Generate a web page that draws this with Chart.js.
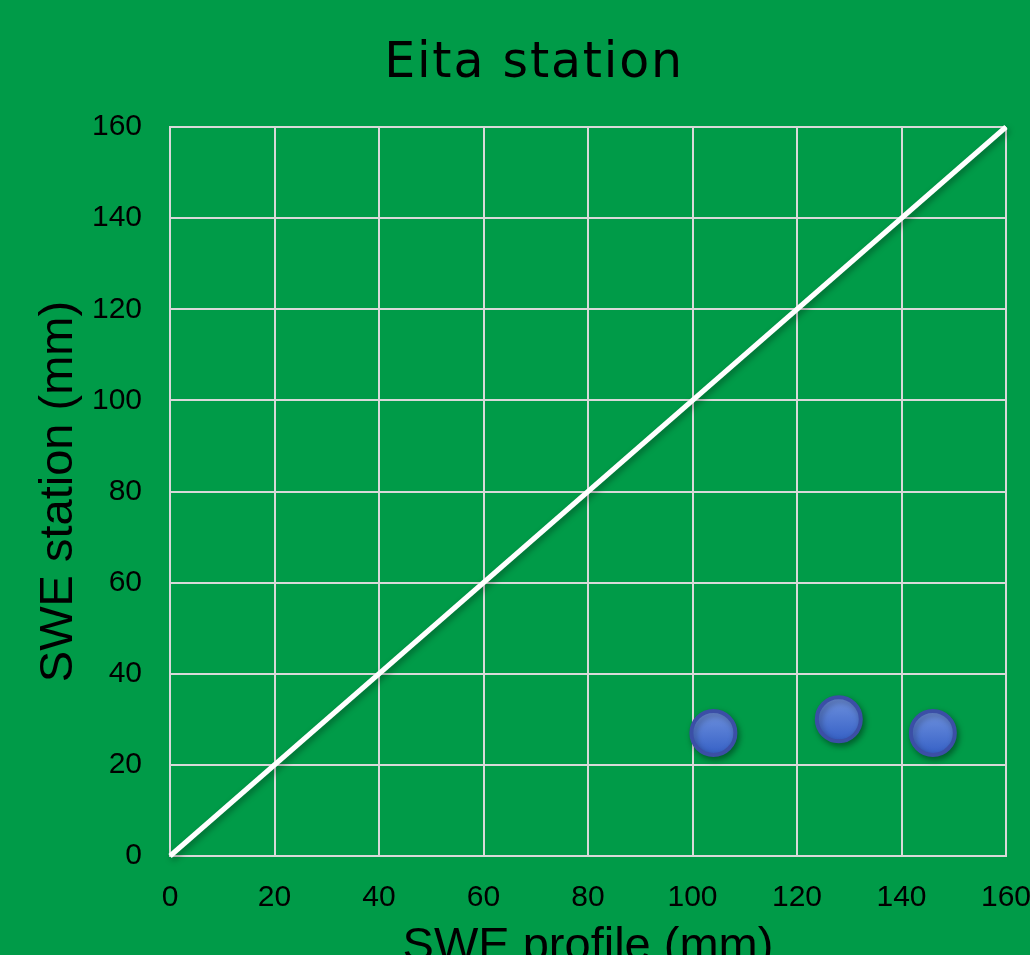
<!DOCTYPE html>
<html lang="en">
<head>
  <meta charset="UTF-8" />
  <title>Eita station</title>
  <script src="https://cdn.jsdelivr.net/npm/chart.js"></script>
  <style>
    * { box-sizing: border-box; margin: 0; padding: 0; }
    html, body { width: 1030px; height: 955px; overflow: hidden; background: #009b48; }
    #wrap { position: absolute; left: 0; top: 0; width: 1060px; height: 975px; }
  </style>
</head>
<body>
  <div id="wrap"><canvas id="sweChart"></canvas></div>
  <script>
    // Data
    const profileSwe = [104, 128, 146];   // SWE profile (mm)
    const stationSwe = [27, 30, 27];      // SWE station (mm)
    const lineX = [0, 160];               // 1:1 line
    const lineY = [0, 160];
    const tickValues = [0, 20, 40, 60, 80, 100, 120, 140, 160];
    const chartTitle = 'Eita station';

    const bgGreen = '#009b48';
    const gridGrey = '#d9d9d9';
    const tickFont = { family: "'Liberation Sans', Arial, sans-serif", size: 30 };
    const titleFont = { family: "'Liberation Sans', Arial, sans-serif", size: 47 };

    // green background, shadows under line and points, title text
    const bgPlugin = {
      id: 'bg',
      beforeDraw(chart) {
        const c = chart.ctx;
        c.save();
        c.fillStyle = bgGreen;
        c.fillRect(0, 0, chart.width, chart.height);
        c.restore();
      },
      beforeDatasetsDraw(chart) {
        const c = chart.ctx;
        c.save();
        c.shadowColor = 'rgba(0,0,0,0.35)';
        c.shadowBlur = 6;
        c.shadowOffsetX = 2;
        c.shadowOffsetY = 3;
      },
      afterDatasetsDraw(chart) {
        chart.ctx.restore();
      },
      afterDraw(chart) {
        const c = chart.ctx;
        c.save();
        c.font = "49px 'DejaVu Sans', sans-serif";
        c.letterSpacing = '1.8px';
        c.fillStyle = '#000';
        c.textAlign = 'center';
        c.textBaseline = 'alphabetic';
        c.fillText(chartTitle, 534, 77);
        c.restore();
      }
    };

    function pointFill(context) {
      const chart = context.chart;
      const p = context.parsed;
      if (!p || !chart.chartArea) return '#4a74d2';
      const py = chart.scales.y.getPixelForValue(p.y);
      const g = chart.ctx.createLinearGradient(0, py - 22, 0, py + 22);
      g.addColorStop(0, '#6f92de');
      g.addColorStop(1, '#3560c6');
      return g;
    }

    const ctx = document.getElementById('sweChart').getContext('2d');
    new Chart(ctx, {
      type: 'scatter',
      data: {
        datasets: [
          {
            label: 'Points',
            data: profileSwe.map((x, i) => ({ x: x, y: stationSwe[i] })),
            backgroundColor: pointFill,
            borderColor: '#3b4fa6',
            borderWidth: 4,
            pointRadius: 22,
            pointHoverRadius: 22
          },
          {
            label: '1:1',
            data: lineX.map((x, i) => ({ x: x, y: lineY[i] })),
            showLine: true,
            borderColor: '#ffffff',
            borderWidth: 5,
            pointRadius: 0,
            clip: false
          }
        ]
      },
      options: {
        responsive: true,
        maintainAspectRatio: false,
        animation: false,
        layout: { padding: { left: 0, right: 54, top: 127, bottom: 0 } },
        plugins: {
          legend: { display: false },
          tooltip: { enabled: false },
          title: { display: false }
        },
        scales: {
          x: {
            type: 'linear',
            min: 0, max: 160,
            afterBuildTicks: (s) => { s.ticks = tickValues.map(v => ({ value: v })); },
            afterFit: (s) => { s.height = 119; },
            grid: { color: gridGrey, lineWidth: 2, drawTicks: false },
            border: { color: gridGrey, width: 2 },
            ticks: { color: '#000', font: tickFont, padding: 24, maxRotation: 0 },
            title: { display: true, text: 'SWE profile (mm)', color: '#000', font: titleFont, padding: { top: 0, bottom: 0 } }
          },
          y: {
            type: 'linear',
            min: 0, max: 160,
            afterBuildTicks: (s) => { s.ticks = tickValues.map(v => ({ value: v })); },
            afterFit: (s) => { s.width = 170; },
            grid: { color: gridGrey, lineWidth: 2, drawTicks: false },
            border: { color: gridGrey, width: 2 },
            ticks: { color: '#000', font: tickFont, padding: 28 },
            title: { display: true, text: 'SWE station (mm)', color: '#000', font: titleFont, padding: { top: 31, bottom: 0 } }
          }
        }
      },
      plugins: [bgPlugin]
    });
  </script>
</body>
</html>
